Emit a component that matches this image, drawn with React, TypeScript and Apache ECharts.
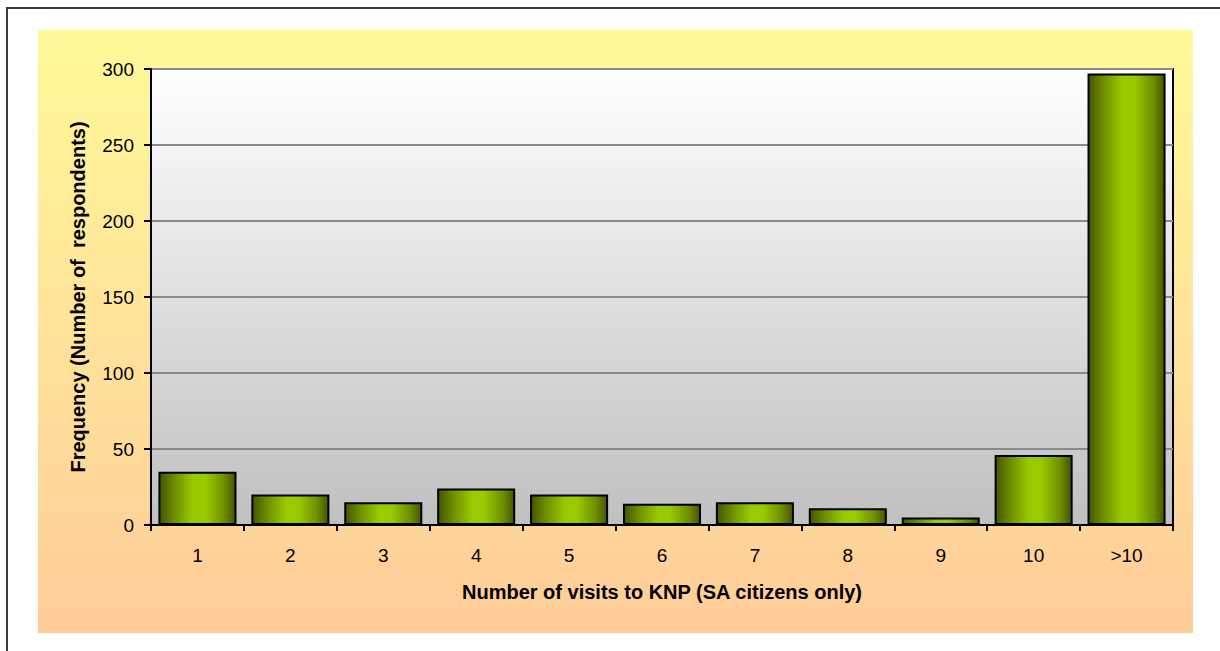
import React, { useEffect, useRef } from "react";
import * as echarts from "echarts";

const categories = ["1", "2", "3", "4", "5", "6", "7", "8", "9", "10", ">10"];
const frequencies = [35, 20, 15, 24, 20, 14, 15, 11, 5, 46, 297];
const yTicks = { min: 0, max: 300, interval: 50 };
const xTitle = "Number of visits to KNP (SA citizens only)";
const yTitle = "Frequency (Number of  respondents)";

export default function App() {
  const ref = useRef<HTMLDivElement>(null);
  useEffect(() => {
    if (!ref.current) return;
    const chart = echarts.init(ref.current, null, { renderer: "svg" });
    const font = "'Liberation Sans', Arial, sans-serif";
    chart.setOption({
      animation: false,
      backgroundColor: "#ffffff",
      graphic: [
        {
          type: "rect",
          z: -10,
          shape: { x: 7, y: 8, width: 1240, height: 700 },
          style: { fill: "#ffffff", stroke: "#3a3a3a", lineWidth: 2 },
          silent: true,
        },
        {
          type: "rect",
          z: -9,
          shape: { x: 38, y: 30, width: 1155, height: 603 },
          style: {
            fill: new echarts.graphic.LinearGradient(0, 0, 0, 1, [
              { offset: 0, color: "#fffa99" },
              { offset: 1, color: "#ffcc99" },
            ]),
          },
          silent: true,
        },
      ],
      grid: {
        left: 151,
        top: 69,
        right: 47,
        bottom: 126,
        show: true,
        backgroundColor: new echarts.graphic.LinearGradient(0, 0, 0, 1, [
          { offset: 0, color: "#ffffff" },
          { offset: 1, color: "#c0c0c0" },
        ]),
        borderColor: "#000000",
        borderWidth: 2,
      },
      xAxis: {
        type: "category",
        data: categories,
        name: xTitle,
        nameLocation: "middle",
        nameGap: 57,
        nameTextStyle: { fontFamily: font, fontSize: 20, fontWeight: "bold", color: "#000" },
        axisLine: { lineStyle: { color: "#000", width: 2 } },
        axisTick: { show: true, length: 6, lineStyle: { color: "#000", width: 2 } },
        axisLabel: { fontFamily: font, fontSize: 19, color: "#000", margin: 21 },
      },
      yAxis: {
        type: "value",
        min: yTicks.min,
        max: yTicks.max,
        interval: yTicks.interval,
        name: yTitle,
        nameLocation: "middle",
        nameGap: 63,
        nameTextStyle: { fontFamily: font, fontSize: 20, fontWeight: "bold", color: "#000" },
        axisLine: { show: true, lineStyle: { color: "#000", width: 2 } },
        axisTick: { show: true, length: 7, lineStyle: { color: "#000", width: 2 } },
        axisLabel: { fontFamily: font, fontSize: 19, color: "#000", margin: 17 },
        splitLine: { lineStyle: { color: "#8a8a8a", width: 2 } },
      },
      series: [
        {
          type: "bar",
          data: frequencies,
          barWidth: "84%",
          itemStyle: {
            color: new echarts.graphic.LinearGradient(0, 0, 1, 0, [
              { offset: 0, color: "#445500" },
              { offset: 0.2, color: "#6f8f00" },
              { offset: 0.45, color: "#99cc00" },
              { offset: 0.6, color: "#99cc00" },
              { offset: 0.85, color: "#6f8f00" },
              { offset: 1, color: "#445500" },
            ]),
            borderColor: "#000",
            borderWidth: 2,
          },
        },
      ],
    });
    return () => chart.dispose();
  }, []);
  return (
    <div
      ref={ref}
      style={{ position: "fixed", left: 0, top: 0, width: 1220, height: 651 }}
    />
  );
}
